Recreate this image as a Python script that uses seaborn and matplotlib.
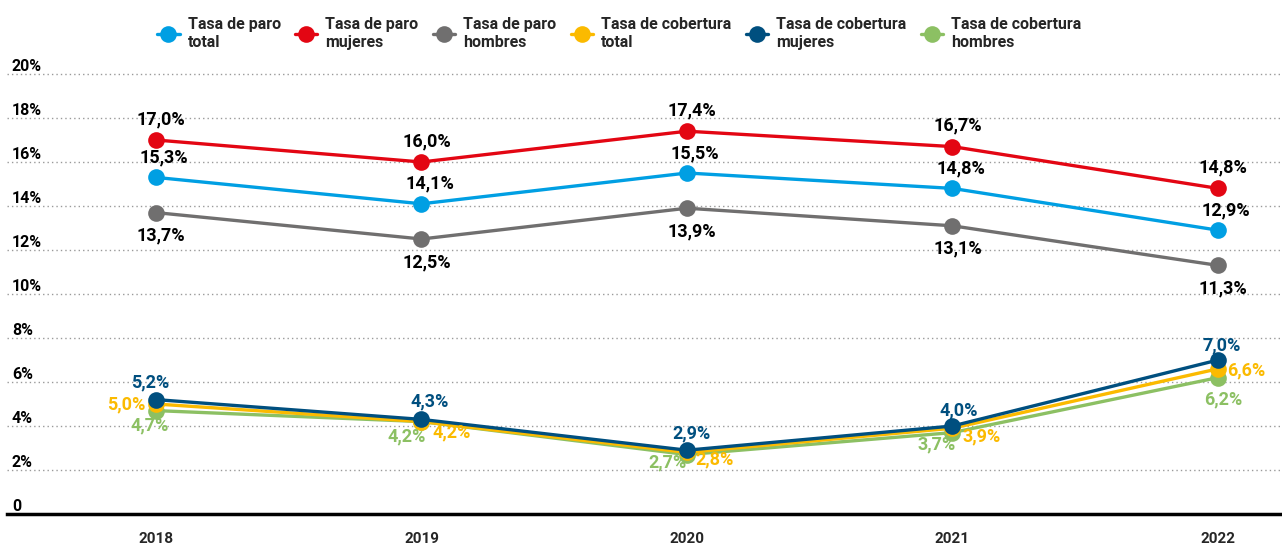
import pandas as pd
import seaborn as sns
import matplotlib.pyplot as plt
from matplotlib import font_manager
from matplotlib.lines import Line2D
from matplotlib.transforms import blended_transform_factory

# Data
years = [2018, 2019, 2020, 2021, 2022]
paro_total = [15.3, 14.1, 15.5, 14.8, 12.9]
paro_mujeres = [17.0, 16.0, 17.4, 16.7, 14.8]
paro_hombres = [13.7, 12.5, 13.9, 13.1, 11.3]
cobertura_total = [5.0, 4.2, 2.8, 3.9, 6.6]
cobertura_mujeres = [5.2, 4.3, 2.9, 4.0, 7.0]
cobertura_hombres = [4.7, 4.2, 2.7, 3.7, 6.2]

series_names = ["Tasa de paro\ntotal", "Tasa de paro\nmujeres", "Tasa de paro\nhombres",
                "Tasa de cobertura\ntotal", "Tasa de cobertura\nmujeres", "Tasa de cobertura\nhombres"]
series_values = [paro_total, paro_mujeres, paro_hombres,
                 cobertura_total, cobertura_mujeres, cobertura_hombres]
colors = ["#009FE3", "#E30613", "#706F6F", "#FBBA00", "#004F7F", "#8CC063"]
ytick_values = list(range(0, 22, 2))

# Font: condensed bold if available
available = {f.name for f in font_manager.fontManager.ttflist}
font = "Liberation Sans Narrow" if "Liberation Sans Narrow" in available else "Roboto"

sns.set_style("white")
plt.rcParams["font.family"] = [font, "DejaVu Sans"]
plt.rcParams["font.weight"] = "bold"

# Long format table
rows = []
for name, vals in zip(series_names, series_values):
    for y, v in zip(years, vals):
        rows.append({"year": y, "value": v, "serie": name})
df = pd.DataFrame(rows)

palette = dict(zip(series_names, colors))
# drawing order: lower group green, yellow, navy on top
draw_order = [series_names[i] for i in [2, 0, 1, 5, 3, 4]]

fig = plt.figure(figsize=(12.82, 5.48), dpi=100)
ax = fig.add_axes([7 / 1282, 34 / 548, 1275 / 1282, 451 / 548])

sns.lineplot(data=df, x="year", y="value", hue="serie", hue_order=draw_order,
             palette=palette, marker="o", markersize=12, markeredgewidth=0,
             linewidth=2.4, legend=False, ax=ax)

ax.set_xlim(2018 - 0.561, 2022 + 0.241)
ax.set_ylim(0, 20.5)

# grid
for v in ytick_values[1:]:
    ax.axhline(v, color="#9a9a9a", linewidth=1, linestyle=(0, (1, 2.2)), zorder=0)

sns.despine(ax=ax, left=True, top=True, right=True)
ax.spines["bottom"].set_color("black")
ax.spines["bottom"].set_linewidth(2.5)

ax.set_yticks([])
trans = blended_transform_factory(ax.transAxes, ax.transData)
for v in ytick_values:
    lab = "0" if v == 0 else f"{v}%"
    ax.text(5 / 1275, v, lab, transform=trans, ha="left", va="bottom",
            fontsize=11.5, fontweight="bold", color="black")

ax.set_xticks(years)
ax.set_xticklabels([str(y) for y in years], fontsize=11, fontweight="bold")
ax.tick_params(axis="x", length=0, pad=13)
ax.set_xlabel("")
ax.set_ylabel("")

# label offsets in pixels (dx right, dy down)
offsets = {
    0: [(8, -20)] * 5,
    1: [(5, -21)] * 5,
    2: [(5, 23)] * 5,
    3: [(-30, 0), (30, 11), (28, 7), (29, 8), (28, 2)],
    4: [(-6, -17), (8, -18), (5, -17), (6, -16), (4, -15)],
    5: [(-6, 15), (-15, 15), (-19, 8), (-16, 12), (5, 22)],
}
for i, vals in enumerate(series_values):
    tcolor = "black" if i < 3 else colors[i]
    for j, (y, v) in enumerate(zip(years, vals)):
        dx, dy = offsets[i][j]
        ax.annotate(f"{v:.1f}%".replace(".", ","), xy=(y, v), xytext=(dx, -dy),
                    textcoords="offset pixels", ha="center", va="center",
                    fontsize=13, fontweight="bold", color=tcolor, zorder=5)

# legend
handles = [Line2D([0], [0], color=c, marker="o", markersize=12, linewidth=2.4,
                  markeredgewidth=0) for c in colors]
fig.legend(handles, series_names, loc="upper center", bbox_to_anchor=(0.483, 0.995),
           ncol=6, frameon=False, handlelength=1.4, handletextpad=0.5,
           columnspacing=0.9, prop={"weight": "bold", "size": 11.5})

fig.savefig("out.png", dpi=100)
